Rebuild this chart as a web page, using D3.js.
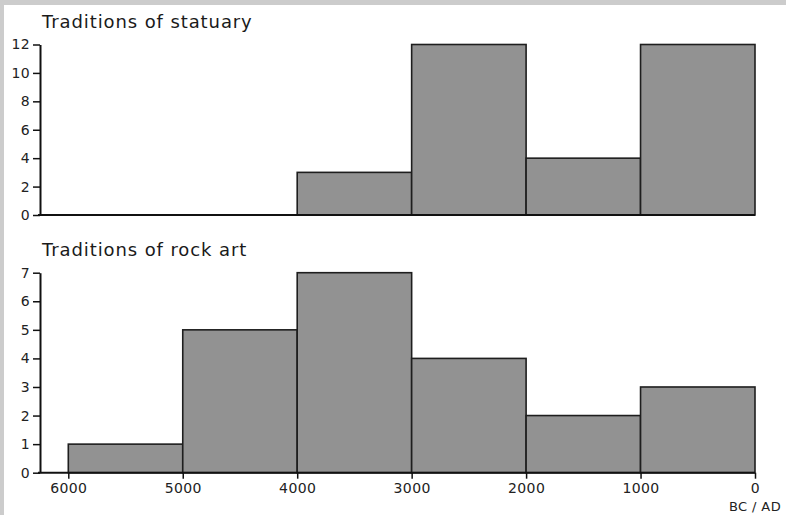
<!DOCTYPE html>
<html>
<head>
<meta charset="utf-8">
<script src="https://cdn.jsdelivr.net/npm/d3@7"></script>
<style>
  html, body { margin: 0; padding: 0; background: #fff; }
  body { width: 786px; height: 515px; overflow: hidden; }
  svg { display: block; }
  .title { font-family: "DejaVu Sans", sans-serif; font-size: 18px; fill: #1a1a1a; letter-spacing: 0.9px; }
  .tick text { font-family: "DejaVu Sans", sans-serif; font-size: 14px; fill: #222; letter-spacing: 0.4px; }
  .unit { font-family: "DejaVu Sans", sans-serif; font-size: 13px; fill: #222; letter-spacing: 0.4px; }
</style>
</head>
<body>
<svg id="chart"></svg>
<script>
// bin edges (years BC), one bin per millennium
var binStarts = [6000, 5000, 4000, 3000, 2000, 1000];
var xTicks = [6000, 5000, 4000, 3000, 2000, 1000, 0];

// counts per bin
var statuary = [0, 0, 3, 12, 4, 12];
var rockArt = [1, 5, 7, 4, 2, 3];

var statuaryTicks = [0, 2, 4, 6, 8, 10, 12];
var rockArtTicks = [0, 1, 2, 3, 4, 5, 6, 7];

var width = 786, height = 515;

var svg = d3.select('#chart')
	.attr('width', width)
	.attr('height', height);

// grey frame at top and left edges
svg.append('rect').attr('x', 0).attr('y', 0).attr('width', width).attr('height', 5).attr('fill', '#cccccc');
svg.append('rect').attr('x', 0).attr('y', 0).attr('width', 4).attr('height', height).attr('fill', '#cccccc');

var xScale = d3.scaleLinear()
	.domain([6000, 0])
	.range([68.3, 755]);

/**
 * Draws one histogram panel.
 */
var drawPanel = function(title, values, ticks, top, bottom, titleY, showX) {
	var g = svg.append('g');
	var yScale = d3.scaleLinear()
		.domain([0, d3.max(ticks)])
		.range([bottom, top]);

	g.append('text')
		.attr('class', 'title')
		.attr('x', 42)
		.attr('y', titleY)
		.text(title);

	// map counts onto their bins, skip empty ones
	var bins = values.map(function(v, i) {
		return { x0: binStarts[i], x1: binStarts[i] - 1000, value: v };
	}).filter(function(b) { return b.value > 0; });

	// bars
	g.append('g').selectAll('rect').data(bins)
		.enter()
		.append('rect')
		.attr('x', function(d) { return xScale(d.x0); })
		.attr('y', function(d) { return yScale(d.value); })
		.attr('width', function(d) { return xScale(d.x1) - xScale(d.x0); })
		.attr('height', function(d) { return bottom - yScale(d.value); })
		.attr('fill', '#929292')
		.attr('stroke', '#1e1e1e')
		.attr('stroke-width', 1.6);

	// y axis
	var yAxis = d3.axisLeft(yScale)
		.tickValues(ticks)
		.tickSize(7)
		.tickPadding(3)
		.tickSizeOuter(0)
		.tickFormat(d3.format('d'));
	var ya = g.append('g')
		.attr('transform', 'translate(40,0)')
		.call(yAxis);
	ya.select('.domain').attr('stroke', '#111').attr('stroke-width', 2);
	ya.selectAll('.tick line').attr('stroke', '#111').attr('stroke-width', 1.5);

	// x axis ticks (bottom panel only)
	if (showX) {
		var xAxis = d3.axisBottom(xScale)
			.tickValues(xTicks)
			.tickSize(6)
			.tickPadding(4)
			.tickSizeOuter(0)
			.tickFormat(d3.format('d'));
		var xa = g.append('g')
			.attr('transform', 'translate(0,' + bottom + ')')
			.call(xAxis);
		xa.selectAll('.tick line').attr('stroke', '#111').attr('stroke-width', 1.5);
		xa.select('.domain').remove();
	}
	// baseline
	g.append('line')
		.attr('x1', 38).attr('x2', 755)
		.attr('y1', bottom).attr('y2', bottom)
		.attr('stroke', '#111').attr('stroke-width', 2);
	return g;
};

drawPanel('Traditions of statuary', statuary, statuaryTicks, 44.5, 215, 28, false);
drawPanel('Traditions of rock art', rockArt, rockArtTicks, 272.7, 472.7, 256, true);

svg.append('text')
	.attr('class', 'unit')
	.attr('x', xScale(0))
	.attr('y', 511)
	.attr('text-anchor', 'middle')
	.text('BC / AD');
</script>
</body>
</html>
